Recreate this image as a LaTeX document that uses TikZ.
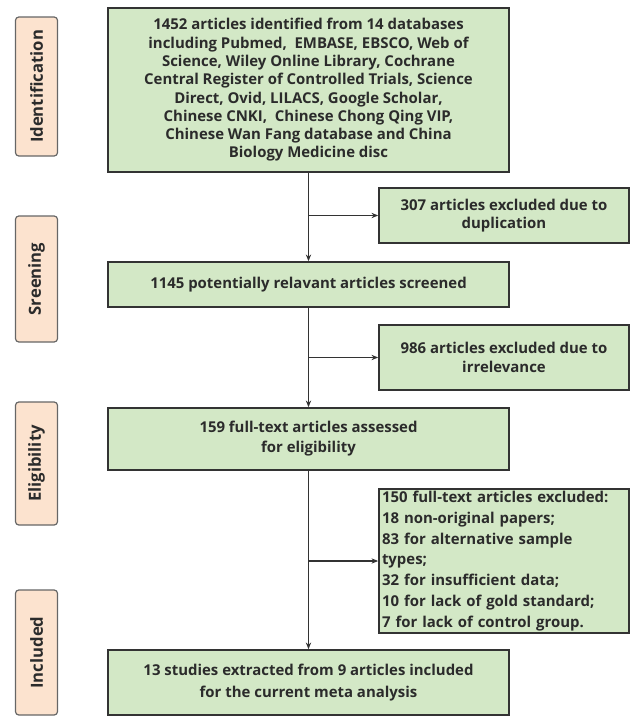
\documentclass[tikz,border=0pt]{standalone}
\usepackage{fontspec}
\setmainfont{Open Sans}
\usetikzlibrary{arrows.meta}
\definecolor{boxgreen}{HTML}{D3E8C6}
\definecolor{peach}{HTML}{FCE3CF}
\definecolor{txt}{HTML}{2B2B2B}
\definecolor{edge}{HTML}{333333}
\begin{document}
\begin{tikzpicture}[x=0.75pt,y=-0.75pt,
  mainbox/.style={draw=edge,line width=1.3pt,fill=boxgreen,text=txt,
    font=\fontsize{11.2}{13.7}\selectfont\bfseries,align=center,
    minimum width=300.75pt,inner sep=0pt},
  sidebox/.style={draw=edge,line width=1.3pt,fill=boxgreen,text=txt,
    font=\fontsize{11.2}{14}\selectfont\bfseries,
    minimum width=187.5pt,inner sep=0pt},
  stagebox/.style={draw=gray!80!black,line width=0.9pt,fill=peach,text=txt,
    rounded corners=2.5pt,rotate=90,font=\fontsize{12.5}{14}\selectfont\bfseries,
    minimum height=31.5pt,inner sep=0pt},
  flow/.style={draw=edge,line width=0.8pt,-{Stealth[length=5pt,width=4pt]}}
]
\useasboundingbox (0,0) rectangle (632,718);

% stage labels
\node[stagebox,minimum width=104.25pt] (s1) at (36.5,86.5) {Identification};
\node[stagebox,minimum width=94.5pt] (s2) at (36.5,279) {Sreening};
\node[stagebox,minimum width=92.25pt] (s3) at (36.5,463.5) {Eligibility};
\node[stagebox,minimum width=93.75pt] (s4) at (36.5,652.5) {Included};

% main boxes
\node[mainbox,minimum height=123pt] (a) at (308.5,90) {1452 articles identified from 14 databases\\
including Pubmed,\ \ EMBASE, EBSCO, Web of\\
Science, Wiley Online Library, Cochrane\\
Central Register of Controlled Trials, Science\\
Direct, Ovid, LILACS, Google Scholar,\\
Chinese CNKI,\ \ Chinese Chong Qing VIP,\\
Chinese Wan Fang database and China\\
Biology Medicine disc};
\node[mainbox,minimum height=33.75pt] (b) at (308.5,284.5) {1145 potentially relavant articles screened};
\node[mainbox,minimum height=46.5pt,font=\fontsize{11.2}{15}\selectfont\bfseries] (c) at (308.5,439) {159 full-text articles assessed\\for eligibility};
\node[mainbox,minimum height=48.75pt,font=\fontsize{11.2}{16}\selectfont\bfseries] (d) at (308.5,682.5) {13 studies extracted from 9 articles included\\for the current meta analysis};

% side boxes
\node[sidebox,align=center,minimum height=41.25pt] (e1) at (504,215.5) {307 articles excluded due to\\duplication};
\node[sidebox,align=center,minimum height=48.75pt] (e2) at (504,357.5) {986 articles excluded due to\\irrelevance};
\node[sidebox,align=left,minimum height=108pt,text width=183pt,
  font=\fontsize{11.2}{15.6}\selectfont\bfseries] (e3) at (504,561) {150 full-text articles excluded:\\
18 non-original papers;\\
83 for alternative sample\\
types;\\
32 for insufficient data;\\
10 for lack of gold standard;\\
7 for lack of control group.};

% connectors
\coordinate (j1) at (a.south |- e1.west);
\coordinate (j2) at (b.south |- e2.west);
\coordinate (j3) at (c.south |- e3.west);
\draw[flow] (a.south) -- (b.north);
\draw[flow] (j1) -- (e1.west);
\draw[flow] (b.south) -- (c.north);
\draw[flow] (j2) -- (e2.west);
\draw[flow] (c.south) -- (d.north);
\draw[flow] (j3) -- (e3.west);
\end{tikzpicture}
\end{document}
